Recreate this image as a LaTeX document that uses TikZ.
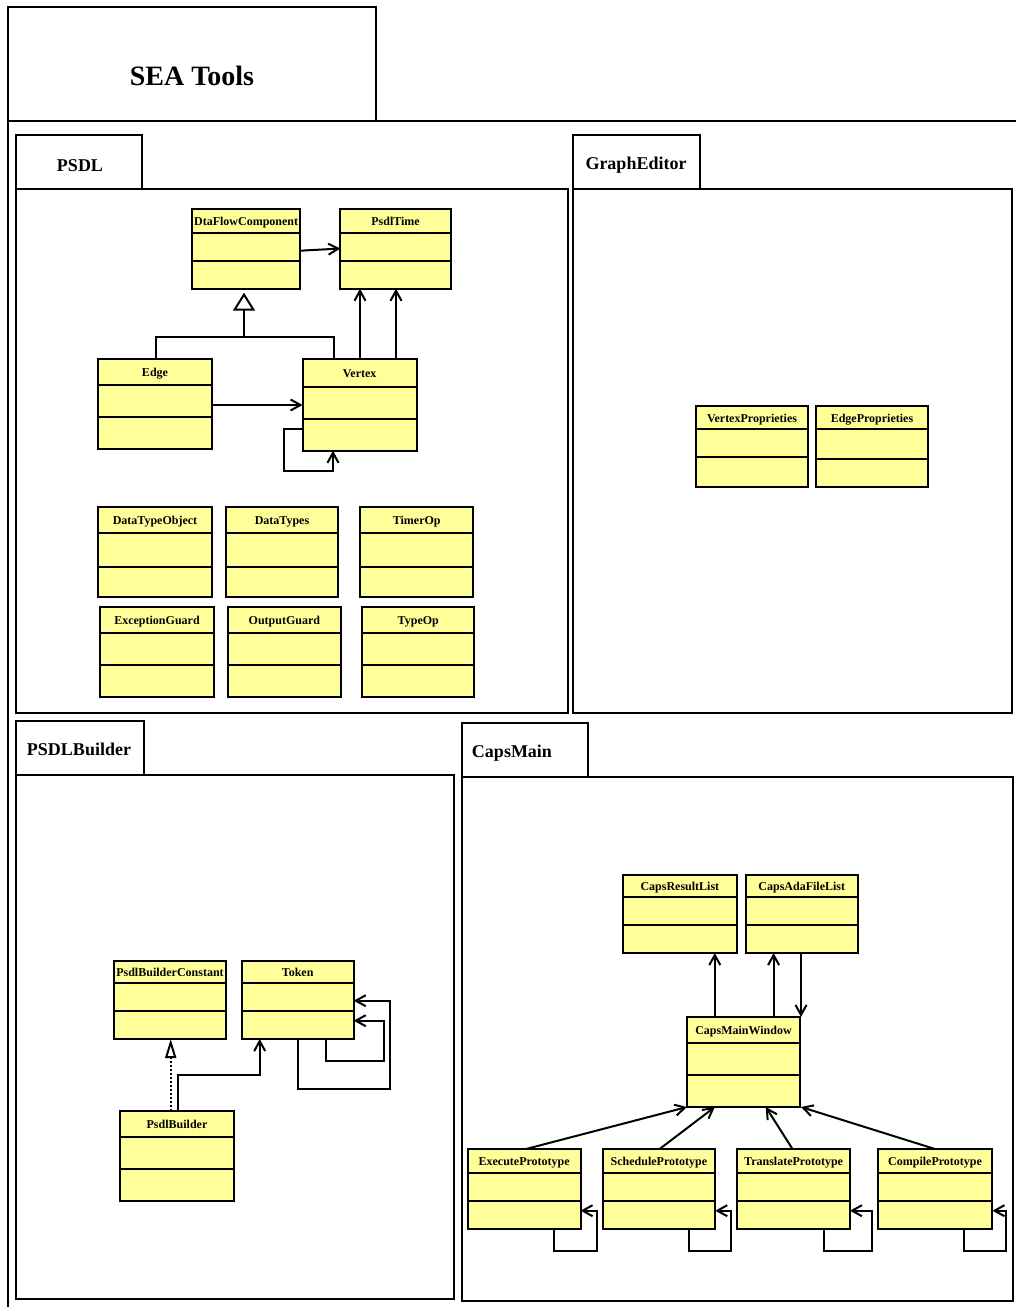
\documentclass[tikz,border=0pt]{standalone}
\usepackage{fontspec}
\setmainfont{Liberation Serif}
\usetikzlibrary{arrows.meta,calc}
\definecolor{clsfill}{RGB}{255,255,153}
\tikzset{
  lw/.style={line width=2pt},
  clsbox/.style={draw, lw, fill=clsfill, rectangle, inner sep=0pt, outer sep=0pt},
  clsline/.style={lw},
  clsname/.style={font=\fontsize{12}{13}\selectfont\bfseries, inner sep=0pt, anchor=base},
  pkgbox/.style={draw, lw, rectangle, inner sep=0pt, outer sep=0pt},
  pkgname/.style={font=\fontsize{18}{20}\selectfont\bfseries, inner sep=0pt, anchor=base},
  titlename/.style={font=\fontsize{28}{30}\selectfont\bfseries, inner sep=0pt, anchor=base},
  nav/.style={lw, -{Straight Barb[length=10pt,width=11pt]}},
  inh/.style={lw, -{Triangle[open,length=18pt,width=22pt]}},
  realz/.style={lw, dash pattern=on 2.5pt off 1.5pt, -{Triangle[open,length=19pt,width=11pt]}},
  link/.style={lw},
}
\newcommand\umlbox[8]{%
  \node[clsbox, minimum width={(#4)-(#2)}, minimum height={(#5)-(#3)}] (#1) at ({((#2)+(#4))/2},{((#3)+(#5))/2}) {};
  \draw[clsline] (#2,#6) -- (#4,#6);
  \draw[clsline] (#2,#7) -- (#4,#7);
  \node[clsname] (#1-name) at ({((#2)+(#4))/2},{((#3)+(#6))/2+4.5}) {#8};
}
\newcommand\boxnode[5]{%
  \node[pkgbox, minimum width={(#4)-(#2)}, minimum height={(#5)-(#3)}] (#1) at ({((#2)+(#4))/2},{((#3)+(#5))/2}) {};
}
\begin{document}
\begin{tikzpicture}[x=1pt,y=-1pt]
\useasboundingbox[fill=white] (0,0) rectangle (1016,1307);

% outer frame and title tab
\draw[lw] (1030,121) -- (8,121) -- (8,1320);
\boxnode{titletab}{8}{7}{376}{121}
\node[titlename] (title) at (192,85.7) {SEA Tools};

% packages
\boxnode{psdltab}{16}{135}{142}{189}
\boxnode{psdlbody}{16}{189}{567.5}{712.5}
\node[pkgname] (psdlname) at (80,171.7) {PSDL};

\boxnode{getab}{573}{135}{700}{189}
\boxnode{gebody}{573}{189}{1012}{712.5}
\node[pkgname] (gename) at (636,169) {GraphEditor};

\boxnode{pbtab}{16}{721}{144}{775}
\boxnode{pbbody}{16}{775}{453.7}{1298.5}
\node[pkgname] (pbname) at (79,755.7) {PSDLBuilder};

\boxnode{cmtab}{462}{723}{588}{777}
\boxnode{cmbody}{462}{777}{1013}{1300.7}
\node[pkgname] (cmname) at (512,757.7) {CapsMain};

% PSDL classes
\umlbox{dfc}{191.9}{209}{300.4}{288.7}{233.3}{260.7}{DtaFlowComponent}
\umlbox{pt}{340.4}{209}{450.7}{288.7}{233.3}{260.7}{PsdlTime}
\umlbox{edge}{97.8}{359}{212.2}{448.7}{385}{416.7}{Edge}
\umlbox{vertex}{302.6}{359}{416.7}{450.7}{387}{418.7}{Vertex}
\umlbox{dto}{97.8}{506.7}{212.2}{597}{532.7}{567}{DataTypeObject}
\umlbox{dt}{226}{506.7}{338}{597}{532.7}{567}{DataTypes}
\umlbox{timer}{360.4}{506.7}{473}{597}{532.7}{567}{TimerOp}
\umlbox{exg}{100}{606.7}{214}{697}{633}{665}{ExceptionGuard}
\umlbox{outg}{228}{606.7}{340.7}{697}{633}{665}{OutputGuard}
\umlbox{typeop}{362.2}{606.7}{474.4}{697}{633}{665}{TypeOp}

% GraphEditor classes
\umlbox{vp}{695.7}{406.3}{808.3}{487}{429}{457}{VertexProprieties}
\umlbox{ep}{815.7}{406.3}{928.3}{487}{429}{459}{EdgeProprieties}

% PSDLBuilder classes
\umlbox{pbc}{114}{960.7}{226}{1039}{982.7}{1010.7}{PsdlBuilderConstant}
\umlbox{tok}{241.7}{960.7}{353.7}{1039}{982.7}{1010.7}{Token}
\umlbox{pbld}{120}{1111}{234}{1200.7}{1136.7}{1169}{PsdlBuilder}

% CapsMain classes
\umlbox{crl}{622.5}{875}{737.3}{953}{896.7}{925}{CapsResultList}
\umlbox{cafl}{745.5}{875}{858}{953}{896.7}{925}{CapsAdaFileList}
\umlbox{cmw}{687.4}{1017}{799.6}{1107}{1042.7}{1075}{CapsMainWindow}
\umlbox{exe}{467.8}{1149}{580.5}{1229}{1172.7}{1201}{ExecutePrototype}
\umlbox{sch}{602.6}{1149}{715.2}{1229}{1172.7}{1201}{SchedulePrototype}
\umlbox{tra}{737.3}{1149}{849.9}{1229}{1172.7}{1201}{TranslatePrototype}
\umlbox{com}{877.7}{1149}{992.4}{1229}{1172.7}{1201}{CompilePrototype}

% PSDL connectors
\draw[nav] (dfc.east |- 0,250.7) -- (pt.west |- 0,248.5);
\coordinate (inhj) at (244,336.7);
\draw[inh] (inhj) -- ($(244,0 |- dfc.south)+(0,4)$);
\draw[link] (156,0 |- edge.north) -- (156,336.7) -- (334.4,336.7) -- (334.4,0 |- vertex.north);
\draw[nav] (360,0 |- vertex.north) -- (360,0 |- pt.south);
\draw[nav] (396,0 |- vertex.north) -- (396,0 |- pt.south);
\draw[nav] (edge.east |- 0,405) -- (vertex.west |- 0,405);
\draw[nav] (vertex.west |- 0,428.7) -- (284,428.7) -- (284,470.7) -- (333,470.7) -- (333,0 |- vertex.south);

% PSDLBuilder connectors
\draw[realz] (170.7,0 |- pbld.north) -- (170.7,0 |- pbc.south);
\draw[nav] (177.7,0 |- pbld.north) -- (177.7,1075) -- (259.7,1075) -- (259.7,0 |- tok.south);
\draw[nav] (326,0 |- tok.south) -- (326,1060.7) -- (384,1060.7) -- (384,1020.7) -- (tok.east |- 0,1020.7);
\draw[nav] (297.7,0 |- tok.south) -- (297.7,1088.7) -- (390,1088.7) -- (390,1000.7) -- (tok.east |- 0,1000.7);

% CapsMain connectors
\draw[nav] (714.8,0 |- cmw.north) -- (714.8,0 |- crl.south);
\draw[nav] (773.6,0 |- cmw.north) -- (773.6,0 |- cafl.south);
\draw[nav] (801,0 |- cafl.south) -- (801,0 |- cmw.north);
\draw[nav] (526,0 |- exe.north) -- (687,0 |- cmw.south);
\draw[nav] (659.6,0 |- sch.north) -- (714.8,0 |- cmw.south);
\draw[nav] (792.5,0 |- tra.north) -- (765.8,0 |- cmw.south);
\draw[nav] (935,0 |- com.north) -- (801,0 |- cmw.south);
\draw[nav] (554.4,0 |- exe.south) -- (554.4,1250.7) -- (596.5,1250.7) -- (596.5,1210.7) -- (exe.east |- 0,1210.7);
\draw[nav] (688.8,0 |- sch.south) -- (688.8,1250.7) -- (731.2,1250.7) -- (731.2,1210.7) -- (sch.east |- 0,1210.7);
\draw[nav] (823.9,0 |- tra.south) -- (823.9,1250.7) -- (872,1250.7) -- (872,1210.7) -- (tra.east |- 0,1210.7);
\draw[nav] (964.3,0 |- com.south) -- (964.3,1250.7) -- (1006.3,1250.7) -- (1006.3,1210.7) -- (com.east |- 0,1210.7);
\end{tikzpicture}
\end{document}
